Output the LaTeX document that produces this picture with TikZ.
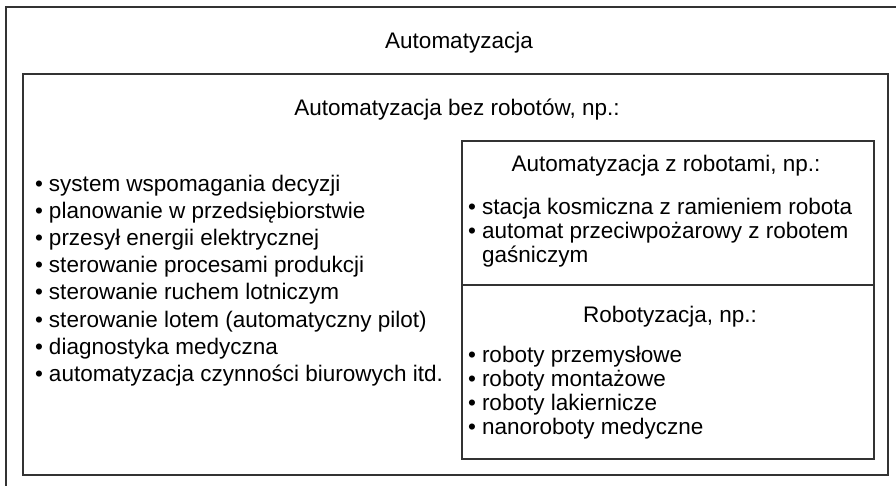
\documentclass[tikz,border=0pt]{standalone}
\usepackage{fontspec}
\setmainfont{Liberation Sans}
\newcommand\bul{\makebox[14pt][l]{\textbullet}}
\tikzset{
  frame/.style={draw=black!80, line width=1.8pt},
  subframe/.style={draw=black!80, line width=1.2pt},
  txt/.style={inner sep=0pt, outer sep=0pt, font=\fontsize{22.5}{24}\selectfont, text=black},
  title/.style={txt, anchor=base},
  item/.style={txt, anchor=base west},
}
\begin{document}
\begin{tikzpicture}[x=1pt, y=-1pt]
  \useasboundingbox (0,0) rectangle (896,485);
  \clip (0,0) rectangle (896,485);
  \fill[white] (0,0) rectangle (896,485);

  % outer frame (runs past the right and bottom edges)
  \draw[frame] (6,7) rectangle (912,494);
  \node[title] (auto) at (459,48.5) {Automatyzacja};

  % automation without robots
  \draw[frame] (23,74) rectangle (888,475);
  \node[title] (bez) at (457,115) {Automatyzacja bez robotów, np.:};
  \foreach \t [count=\i] in {
      system wspomagania decyzji,
      planowanie w przedsiębiorstwie,
      przesył energii elektrycznej,
      sterowanie procesami produkcji,
      sterowanie ruchem lotniczym,
      sterowanie lotem (automatyczny pilot),
      diagnostyka medyczna,
      automatyzacja czynności biurowych itd.}
    \node[item, name=L\i] at (35,{191+(\i-1)*27.2}) {\bul\t};

  % automation with robots / robotisation
  \draw[subframe] (462,141) rectangle (874,459);
  \draw[subframe] (462,285) -- (874,285);

  \node[title] (zrob) at (666,171) {Automatyzacja z robotami, np.:};
  \node[item] (R1) at (468,214) {\bul stacja kosmiczna z ramieniem robota};
  \node[item] (R2) at (468,238) {\bul automat przeciwpożarowy z robotem};
  \node[item] (R3) at (482,262) {gaśniczym};

  \node[title] (robo) at (670,322) {Robotyzacja, np.:};
  \foreach \t [count=\i] in {
      roboty przemysłowe,
      roboty montażowe,
      roboty lakiernicze,
      nanoroboty medyczne}
    \node[item, name=P\i] at (468,{362+(\i-1)*24.2}) {\bul\t};
\end{tikzpicture}
\end{document}
